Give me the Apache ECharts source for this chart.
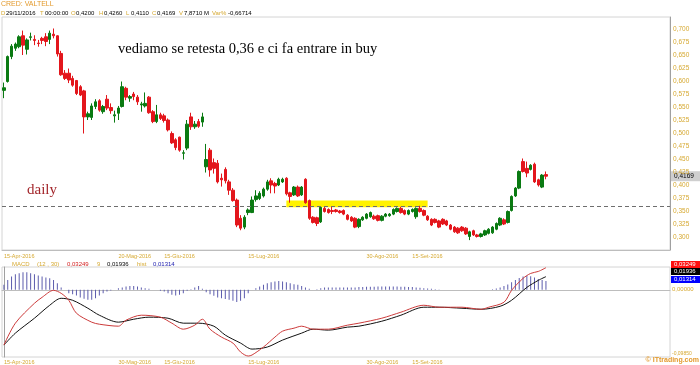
<!DOCTYPE html>
<html><head><meta charset="utf-8">
<script src="https://cdn.jsdelivr.net/npm/echarts@6/dist/echarts.min.js"></script>
<style>html,body{margin:0;padding:0;background:#fff}#c{width:700px;height:365px}</style>
</head><body><div id="c"></div>
<script>
// ---- price data (daily candles) ----
const openP  = [0.582,0.599,0.647,0.663,0.666,0.687,0.661,0.684,0.680,0.673,0.682,0.685,0.680,0.690,0.687,0.653,0.615,0.615,0.605,0.601,0.589,0.581,0.531,0.530,0.551,0.562,0.541,0.565,0.549,0.533,0.538,0.551,0.586,0.567,0.575,0.569,0.554,0.552,0.569,0.541,0.522,0.535,0.533,0.525,0.499,0.487,0.492,0.461,0.471,0.531,0.512,0.522,0.521,0.435,0.467,0.443,0.442,0.413,0.430,0.406,0.390,0.371,0.336,0.319,0.347,0.347,0.372,0.374,0.379,0.392,0.408,0.403,0.400,0.406,0.413,0.385,0.381,0.396,0.381,0.411,0.370,0.338,0.337,0.329,0.355,0.353,0.351,0.352,0.350,0.351,0.342,0.338,0.336,0.320,0.333,0.336,0.339,0.340,0.341,0.332,0.340,0.341,0.344,0.349,0.355,0.351,0.344,0.349,0.339,0.355,0.351,0.340,0.334,0.334,0.331,0.334,0.331,0.323,0.319,0.317,0.319,0.317,0.301,0.312,0.304,0.301,0.304,0.307,0.308,0.315,0.323,0.333,0.328,0.351,0.379,0.394,0.445,0.432,0.430,0.440,0.410,0.396,0.420];
const highP  = [0.597,0.649,0.671,0.674,0.688,0.697,0.682,0.693,0.688,0.679,0.685,0.692,0.697,0.701,0.688,0.658,0.621,0.624,0.610,0.602,0.592,0.583,0.541,0.557,0.565,0.565,0.554,0.573,0.557,0.543,0.552,0.599,0.589,0.573,0.579,0.573,0.560,0.578,0.571,0.544,0.554,0.539,0.537,0.528,0.503,0.490,0.493,0.467,0.525,0.539,0.523,0.527,0.539,0.479,0.471,0.451,0.448,0.422,0.434,0.410,0.394,0.374,0.342,0.342,0.355,0.378,0.390,0.388,0.395,0.410,0.413,0.406,0.414,0.414,0.415,0.387,0.398,0.399,0.398,0.413,0.372,0.340,0.339,0.359,0.358,0.355,0.358,0.354,0.352,0.353,0.344,0.340,0.338,0.336,0.340,0.346,0.349,0.343,0.343,0.342,0.346,0.346,0.355,0.357,0.358,0.353,0.353,0.355,0.357,0.360,0.353,0.342,0.336,0.336,0.333,0.336,0.333,0.325,0.321,0.319,0.321,0.319,0.312,0.314,0.306,0.308,0.314,0.317,0.321,0.328,0.338,0.336,0.351,0.380,0.396,0.428,0.451,0.445,0.440,0.443,0.412,0.421,0.426];
const lowP   = [0.567,0.597,0.642,0.658,0.663,0.650,0.651,0.678,0.669,0.666,0.671,0.667,0.671,0.682,0.647,0.610,0.602,0.596,0.589,0.573,0.571,0.499,0.525,0.525,0.546,0.541,0.537,0.544,0.537,0.520,0.525,0.549,0.563,0.560,0.563,0.554,0.541,0.549,0.537,0.519,0.519,0.525,0.520,0.503,0.479,0.467,0.464,0.449,0.467,0.506,0.508,0.510,0.512,0.424,0.416,0.422,0.403,0.397,0.403,0.381,0.368,0.319,0.313,0.315,0.342,0.346,0.368,0.371,0.376,0.389,0.384,0.384,0.398,0.404,0.380,0.366,0.379,0.377,0.379,0.364,0.333,0.326,0.321,0.327,0.347,0.345,0.344,0.347,0.345,0.342,0.332,0.329,0.317,0.317,0.331,0.334,0.337,0.333,0.330,0.330,0.338,0.339,0.342,0.347,0.345,0.342,0.342,0.347,0.335,0.347,0.340,0.331,0.321,0.326,0.317,0.323,0.321,0.313,0.308,0.306,0.310,0.304,0.294,0.302,0.299,0.299,0.302,0.305,0.306,0.313,0.321,0.323,0.326,0.349,0.377,0.392,0.424,0.415,0.428,0.404,0.397,0.394,0.411];
const closeP = [0.587,0.647,0.667,0.671,0.685,0.669,0.679,0.685,0.678,0.672,0.678,0.676,0.692,0.687,0.652,0.612,0.605,0.602,0.592,0.576,0.573,0.531,0.537,0.552,0.560,0.544,0.551,0.548,0.543,0.535,0.548,0.589,0.569,0.570,0.570,0.560,0.556,0.557,0.539,0.522,0.535,0.528,0.524,0.506,0.481,0.472,0.467,0.462,0.517,0.512,0.517,0.513,0.531,0.449,0.429,0.432,0.406,0.410,0.408,0.390,0.370,0.323,0.317,0.338,0.352,0.371,0.379,0.384,0.392,0.406,0.400,0.398,0.411,0.411,0.383,0.378,0.396,0.379,0.396,0.366,0.336,0.328,0.326,0.357,0.349,0.347,0.349,0.349,0.347,0.344,0.334,0.331,0.319,0.334,0.338,0.344,0.347,0.335,0.332,0.340,0.344,0.344,0.353,0.355,0.347,0.344,0.351,0.353,0.355,0.349,0.342,0.333,0.323,0.328,0.319,0.325,0.323,0.315,0.310,0.308,0.312,0.306,0.310,0.304,0.301,0.306,0.312,0.315,0.319,0.326,0.336,0.325,0.349,0.378,0.394,0.426,0.426,0.423,0.438,0.406,0.400,0.419,0.4169];

// ---- MACD (12,30,9) ----
const macdLine = [[0,-0.081],[3,-0.0489],[8,-0.0197],[10,-0.011],[13,-0.0007],[15,-0.0051],[17,-0.0153],[19,-0.0343],[23,-0.0474],[25,-0.0504],[30,-0.0533],[32,-0.0445],[36,-0.0372],[41,-0.0401],[44,-0.0489],[47,-0.0577],[50,-0.0518],[52,-0.0431],[54,-0.0577],[57,-0.0693],[60,-0.0781],[62,-0.0912],[64,-0.0971],[65,-0.0956],[68,-0.0839],[71,-0.0693],[73,-0.0606],[76,-0.0562],[78,-0.0533],[81,-0.0577],[85,-0.0577],[90,-0.0518],[93,-0.0489],[99,-0.0416],[104,-0.0328],[110,-0.0226],[114,-0.0255],[120,-0.0255],[125,-0.0285],[127,-0.0255],[131,-0.0182],[133,-0.0007],[136,0.0168],[138,0.0241],[140,0.027],[142,0.03249]];
const signalLine = [[0,-0.081],[3,-0.0635],[8,-0.0416],[12,-0.0226],[15,-0.0124],[18,-0.0153],[22,-0.027],[25,-0.0372],[30,-0.0474],[34,-0.0431],[38,-0.0401],[43,-0.0416],[47,-0.0489],[51,-0.0489],[55,-0.0533],[58,-0.0664],[62,-0.0781],[65,-0.0869],[69,-0.0839],[73,-0.0737],[78,-0.0635],[81,-0.0577],[85,-0.0591],[90,-0.0547],[93,-0.0533],[99,-0.046],[104,-0.0372],[110,-0.0255],[114,-0.0255],[120,-0.027],[125,-0.0285],[130,-0.0241],[133,-0.0153],[137,0.0036],[140,0.0139],[142,0.01936]];
// histogram, in thousandths
const histMilli = [7.3,14.6,19.5,22.9,24.3,25.8,25.8,24.3,22.9,20.9,19.5,18.0,17.0,14.6,9.7,3.4,0,-4.9,-6.3,-8.3,-11.2,-13.1,-14.6,-14.6,-12.2,-8.3,-4.9,-2.4,-1.0,0,2.4,3.4,4.9,5.8,5.8,4.9,3.4,2.4,1.5,0,0,-1.5,-2.4,-4.9,-7.3,-8.3,-7.3,-4.9,-1.5,1.0,3.4,5.8,1.5,-3.4,-6.3,-8.8,-11.2,-12.2,-13.6,-14.6,-16.1,-18.0,-16.1,-12.2,-4.9,0,2.4,4.9,7.3,9.7,11.2,12.2,13.1,12.2,11.2,9.7,8.3,7.3,5.8,3.4,1.5,0,1.0,2.4,3.4,3.4,3.4,3.4,3.4,3.4,3.4,3.5,3.5,4,4,4.5,4.5,4.5,5,5,5,5,5,5,4.5,4.5,4,4,3.5,3,2.5,2,1.5,1,0.5,0.3,0.3,0.3,0.3,0.3,0.3,0.3,0.3,0.3,0.3,0.3,0.3,0.3,1,2,3.5,5.5,8,11,14.5,17.5,19.5,20.5,20,18,16,14.5,13.14];

// ---- axis / annotation values ----
const slotCount = 175;
const topDateLabels = {0:'15-Apr-2016',30:'20-Mag-2016',42:'15-Giu-2016',64:'15-Lug-2016',95:'30-Ago-2016',107:'15-Set-2016'};
const bottomDateLabels = {0:'15-Apr-2016',30:'30-Mag-2016',42:'15-Giu-2016',64:'15-Lug-2016',95:'30-Ago-2016',107:'15-Set-2016'};
const priceMin = 0.275, priceMax = 0.7231, priceStep = 0.025;
const macdMin = -0.0985, macdMax = 0.0335;
const supportLevel = 0.3615;
const zone = {from: 74, to: 111, low: 0.357, high: 0.370};
const lastClose = 0.4169;
const headerItems = [['D','29/11/2016'],['T','00:00:00'],['O','0,4200'],['H','0,4260'],['L','0,4110'],['C','0,4169'],['V','7,8710 M'],['Var%','-0,66714']];
const headerX = [1, 40, 71, 99, 126, 152, 179, 212];
const macdLast = {macd: '0,03249', signal: '0,01936', hist: '0,01314'};
const bottomMacdLabel = '-0,09850';

const GOLD = '#d6a932';
const UP = '#0a7a12', DOWN = '#e3161c';
const cats = Array.from({length: slotCount}, (_, i) => String(i));
const candles = openP.map((o, i) => [o, closeP[i], lowP[i], highP[i]]);
const hist = histMilli.map(v => v / 1000);
const fmt = (v, d) => v.toFixed(d).replace('.', ',');
const FONT = 'Liberation Sans';

const chart = echarts.init(document.getElementById('c'), null, {renderer: 'canvas'});
chart.setOption({
  animation: false,
  backgroundColor: '#fff',
  textStyle: {fontFamily: FONT},
  grid: [
    {left: 2, top: 17, width: 668, height: 233, show: true, borderColor: '#d4d4d4', borderWidth: 1},
    {left: 2, top: 267, width: 668, height: 90, show: true, borderColor: '#d4d4d4', borderWidth: 1}
  ],
  xAxis: [
    {type: 'category', gridIndex: 0, data: cats, boundaryGap: true,
     axisLine: {show: true, lineStyle: {color: '#bdbdbd'}}, axisTick: {show: false}, splitLine: {show: false},
     axisLabel: {interval: 0, color: GOLD, fontSize: 5.5, margin: 3, align: 'left',
       formatter: (v, i) => topDateLabels[i] || ''}},
    {type: 'category', gridIndex: 1, data: cats, boundaryGap: true,
     axisLine: {show: true, lineStyle: {color: '#bdbdbd'}}, axisTick: {show: false}, splitLine: {show: false},
     axisLabel: {interval: 0, color: GOLD, fontSize: 5.5, margin: 2, align: 'left',
       formatter: (v, i) => bottomDateLabels[i] || ''}},
    {type: 'value', gridIndex: 1, min: -0.5, max: slotCount - 0.5, show: false}
  ],
  yAxis: [
    {type: 'value', gridIndex: 0, position: 'right', min: priceMin, max: priceMax, interval: priceStep,
     axisLine: {show: true, lineStyle: {color: '#a0a0a0'}}, axisTick: {show: false}, splitLine: {show: false},
     axisLabel: {color: GOLD, fontSize: 6.5, margin: 3,
       formatter: v => (v > 0.299 && v < 0.701) ? fmt(v, 3) : ''}},
    {type: 'value', gridIndex: 1, position: 'right', min: macdMin, max: macdMax,
     axisLine: {show: true, lineStyle: {color: '#a0a0a0'}}, axisTick: {show: false}, splitLine: {show: false},
     axisLabel: {show: false}}
  ],
  series: [
    {type: 'candlestick', xAxisIndex: 0, yAxisIndex: 0, data: candles, barWidth: 3,
     itemStyle: {color: UP, color0: DOWN, borderColor: UP, borderColor0: DOWN, borderWidth: 1},
     markArea: {silent: true, itemStyle: {color: '#fff200'},
       data: [[{xAxis: String(zone.from), yAxis: zone.high}, {xAxis: String(zone.to), yAxis: zone.low}]]},
     markLine: {silent: true, symbol: 'none', label: {show: false},
       lineStyle: {color: '#6e6e6e', type: [4, 3], width: 1},
       data: [{yAxis: supportLevel}]}},
    {type: 'bar', xAxisIndex: 1, yAxisIndex: 1, data: hist, barWidth: 1,
     itemStyle: {color: '#5c5cad'}},
    {type: 'line', xAxisIndex: 2, yAxisIndex: 1, data: signalLine, showSymbol: false, smooth: 0.3,
     lineStyle: {color: '#111', width: 1}},
    {type: 'line', xAxisIndex: 2, yAxisIndex: 1, data: macdLine, showSymbol: false, smooth: 0.3,
     lineStyle: {color: '#cc3b3b', width: 1}}
  ]
});

const yPrice = chart.convertToPixel({yAxisIndex: 0}, lastClose);
const yZero = chart.convertToPixel({yAxisIndex: 1}, 0);
const yBottom = chart.convertToPixel({yAxisIndex: 1}, macdMin);
const txt = (x, y, s, fill, size, extra) => ({type: 'text', left: x, top: y,
  style: Object.assign({text: s, fill: fill, fontSize: size, fontFamily: FONT}, extra || {})});
const graphics = [
  txt(1, 1, 'CRED: VALTELL', '#e39a2d', 7),
  txt(118, 42, 'vediamo se retesta 0,36 e ci fa entrare in buy', '#000', 14.5, {fontFamily: 'Liberation Serif'}),
  txt(27, 183, 'daily', '#a3262b', 15, {fontFamily: 'Liberation Serif'}),
  {type: 'rect', shape: {x: 671, y: yPrice - 5, width: 29, height: 10}, style: {fill: '#cfcfcf'}},
  txt(674, yPrice - 3.5, fmt(lastClose, 4), '#000', 6.5),
  txt(12, 261, 'MACD', GOLD, 6),
  txt(37, 261, '(12 , 30)', GOLD, 6),
  txt(67, 261, macdLast.macd, '#d42020', 6),
  txt(97, 261, '9', GOLD, 6),
  txt(107, 261, macdLast.signal, '#000', 6),
  txt(137, 261, 'hist', GOLD, 6),
  txt(153, 261, macdLast.hist, '#2020b0', 6),
  {type: 'rect', shape: {x: 671, y: 261, width: 29, height: 7}, style: {fill: '#ff1010'}},
  txt(674, 261.5, macdLast.macd, '#fff', 6),
  {type: 'rect', shape: {x: 671, y: 268, width: 29, height: 7}, style: {fill: '#000'}},
  txt(674, 268.5, macdLast.signal, '#fff', 6),
  {type: 'rect', shape: {x: 671, y: 276, width: 29, height: 7}, style: {fill: '#0000ff'}},
  txt(674, 276.5, macdLast.hist, '#fff', 6),
  txt(672, yZero - 3, '0,00000', GOLD, 6),
  txt(672, yBottom - 6, bottomMacdLabel, GOLD, 5),
  {type: 'text', right: 1, top: 357, style: {text: '© ITtrading.com', fill: '#e39a2d', fontSize: 7, fontWeight: 'bold', fontFamily: FONT}}
];
headerItems.forEach((it, i) => {
  graphics.push(txt(headerX[i], 10, it[0], GOLD, 6));
  graphics.push(txt(headerX[i] + (it[0].length > 1 ? 16 : 5), 10, it[1], '#000', 6));
});
chart.setOption({graphic: graphics});
</script>
</body></html>
